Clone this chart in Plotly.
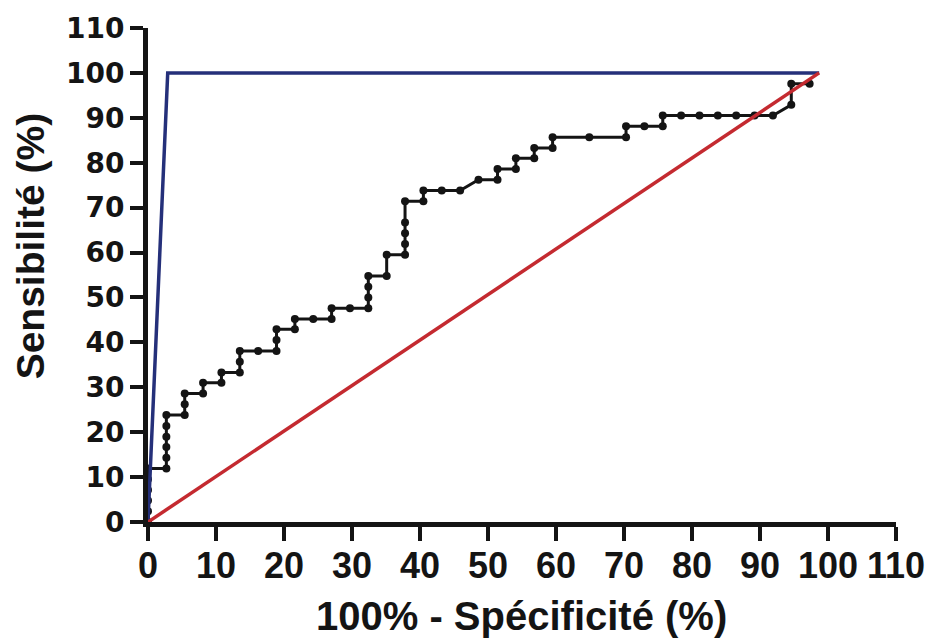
import plotly.graph_objects as go

# ROC curve points (100% - specificity, sensitivity)
roc_x = [0, 0, 0, 0, 0, 0,
         2.7, 2.7, 2.7, 2.7, 2.7, 2.7,
         5.4, 5.4, 5.4,
         8.1, 8.1,
         10.8, 10.8,
         13.5, 13.5, 13.5,
         16.2,
         18.9, 18.9, 18.9,
         21.6, 21.6,
         24.3,
         27.0, 27.0,
         29.7,
         32.4, 32.4, 32.4, 32.4,
         35.1, 35.1,
         37.8, 37.8, 37.8, 37.8, 37.8,
         40.5, 40.5,
         43.2, 45.9,
         48.6,
         51.4, 51.4,
         54.1, 54.1,
         56.8, 56.8,
         59.5, 59.5,
         64.9,
         70.3, 70.3,
         73.0,
         75.7, 75.7,
         78.4, 81.1, 83.8, 86.5, 89.2, 91.9,
         94.6, 94.6,
         97.3]
roc_y = [0, 2.4, 4.8, 7.1, 9.5, 11.9,
         11.9, 14.3, 16.7, 19.0, 21.4, 23.8,
         23.8, 26.2, 28.6,
         28.6, 31.0,
         31.0, 33.3,
         33.3, 35.7, 38.1,
         38.1,
         38.1, 40.5, 42.9,
         42.9, 45.2,
         45.2,
         45.2, 47.6,
         47.6,
         47.6, 50.0, 52.4, 54.8,
         54.8, 59.5,
         59.5, 61.9, 64.3, 66.7, 71.4,
         71.4, 73.8,
         73.8, 73.8,
         76.2,
         76.2, 78.6,
         78.6, 81.0,
         81.0, 83.3,
         83.3, 85.7,
         85.7,
         85.7, 88.1,
         88.1,
         88.1, 90.5,
         90.5, 90.5, 90.5, 90.5, 90.5, 90.5,
         92.9, 97.6,
         97.6]

# Ideal curve (blue) and chance line (red)
ideal_x = [0, 2.9, 98.7]
ideal_y = [0, 100, 100]
chance_x = [0, 98.7]
chance_y = [0, 100]

tick_vals = [0, 10, 20, 30, 40, 50, 60, 70, 80, 90, 100, 110]
tick_text = [str(v) for v in tick_vals]

x_title = "100% - Spécificité (%)"
y_title = "Sensibilité (%)"

fig = go.Figure()
fig.add_trace(go.Scatter(x=roc_x, y=roc_y, mode="lines+markers",
                         line=dict(color="#141414", width=3),
                         marker=dict(color="#141414", size=8),
                         cliponaxis=False, showlegend=False))
fig.add_trace(go.Scatter(x=ideal_x, y=ideal_y, mode="lines",
                         line=dict(color="#25307a", width=3.5),
                         showlegend=False))
fig.add_trace(go.Scatter(x=chance_x, y=chance_y, mode="lines",
                         line=dict(color="#c42a30", width=3.5),
                         showlegend=False))

fig.update_layout(
    width=937, height=644,
    margin=dict(l=148, r=36, t=27, b=122),
    paper_bgcolor="white", plot_bgcolor="white",
    xaxis=dict(range=[0, 110], tickvals=tick_vals, ticktext=tick_text,
               showgrid=False, zeroline=False, showline=True,
               linecolor="#141414", linewidth=5,
               ticks="outside", ticklen=14, tickwidth=4, tickcolor="#141414",
               ticklabelstandoff=-6,
               tickfont=dict(family="Liberation Sans, Arial, sans-serif",
                             size=36, color="#141414", weight="bold")),
    yaxis=dict(range=[0, 110], tickvals=tick_vals, ticktext=tick_text,
               showgrid=False, zeroline=False, showline=True,
               linecolor="#141414", linewidth=5,
               ticks="outside", ticklen=13, tickwidth=4, tickcolor="#141414",
               tickfont=dict(family="DejaVu Sans, sans-serif",
                             size=28, color="#141414", weight="bold")),
    annotations=[
        dict(text=x_title, xref="paper", yref="paper", x=0.4993, y=-0.19,
             xanchor="center", yanchor="middle", showarrow=False,
             font=dict(family="Liberation Sans, Arial, sans-serif", size=40,
                       color="#141414", weight="bold")),
        dict(text=y_title, xref="paper", yref="paper", x=-0.1567, y=0.5596,
             xanchor="center", yanchor="middle", showarrow=False, textangle=-90,
             font=dict(family="Liberation Sans, Arial, sans-serif", size=39,
                       color="#141414", weight="bold")),
    ],
)

fig.write_html("out.html")
